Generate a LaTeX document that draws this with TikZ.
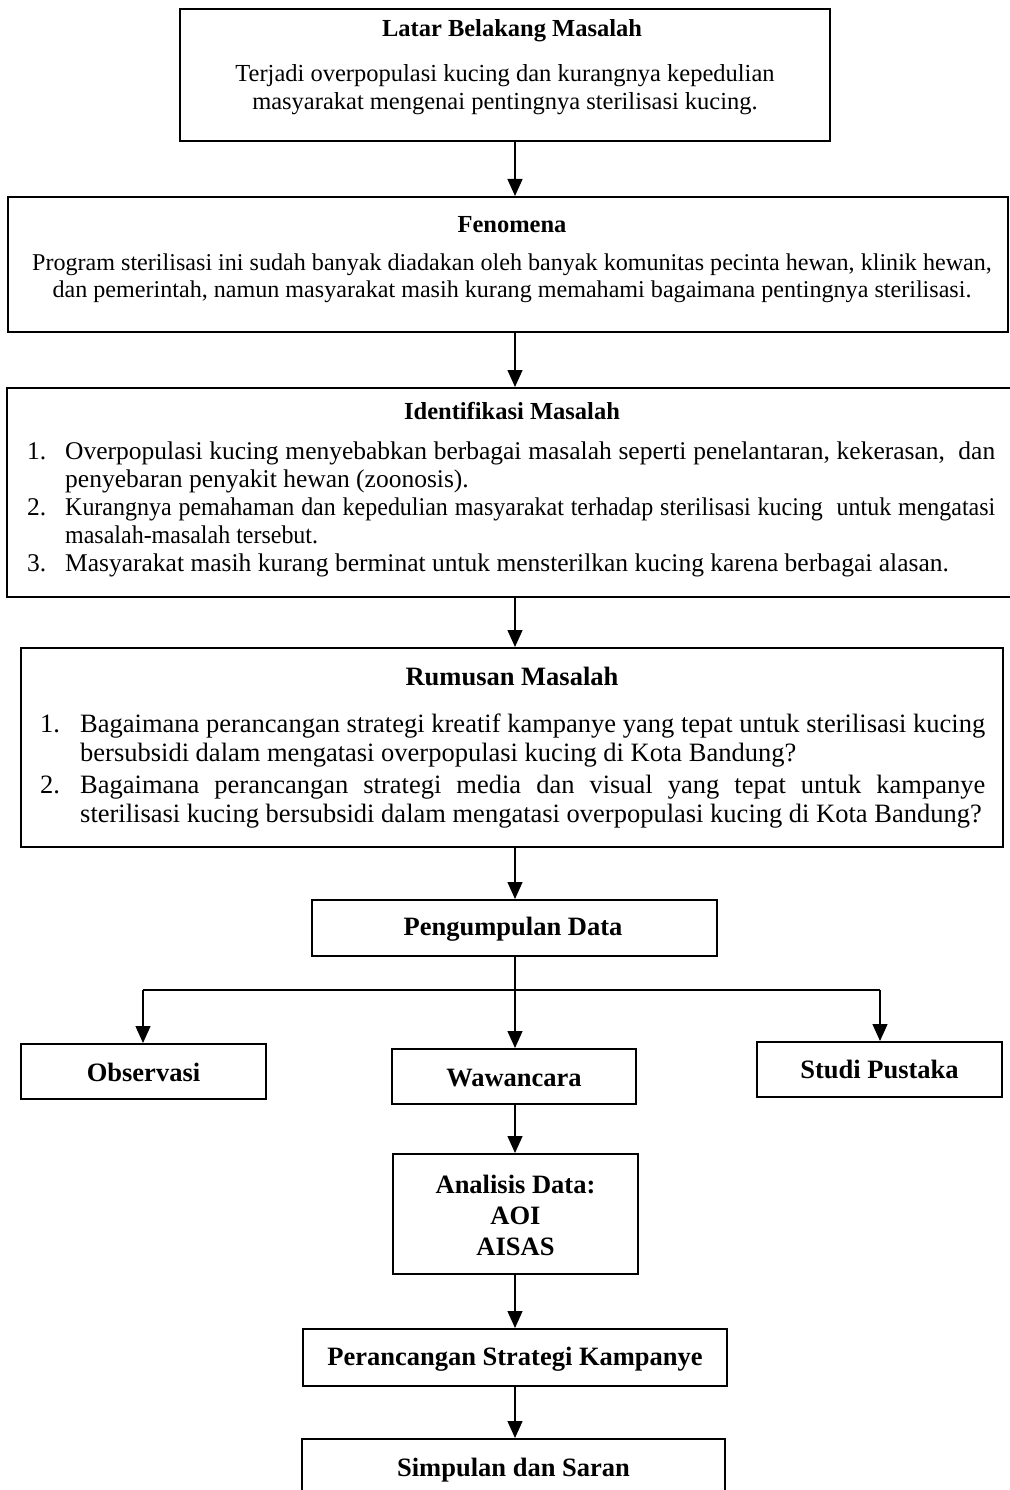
\documentclass[tikz,border=0pt]{standalone}
\usepackage{fontspec}
\setmainfont{Liberation Serif}
\newfontfamily\narrowserif[FakeStretch=0.94]{Liberation Serif}
\usetikzlibrary{arrows.meta}
\newcommand{\itmA}[2]{\par\noindent\hangindent=38pt\hangafter=1\makebox[38pt][l]{#1}#2\par}
\newcommand{\itmB}[2]{\par\noindent\hangindent=40pt\hangafter=1\makebox[40pt][l]{#1}#2\par}
\newcommand{\nohyph}{\hyphenpenalty=10000 \exhyphenpenalty=10000 }
\begin{document}
\begin{tikzpicture}[x=1pt,y=-1pt,
  box/.style={draw, line width=2pt, inner sep=0pt, rectangle},
  ttlS/.style={font=\fontsize{24.5}{28}\selectfont\bfseries, inner sep=0pt},
  ttlL/.style={font=\fontsize{26.5}{31}\selectfont\bfseries, inner sep=0pt, align=center},
  bodyS/.style={font=\fontsize{24.5}{28}\selectfont, inner sep=0pt},
  bodyF/.style={font=\fontsize{24.1}{26.5}\selectfont, inner sep=0pt},
  bodyM/.style={font=\fontsize{25.5}{28}\selectfont, inner sep=0pt},
  bodyL/.style={font=\fontsize{26.5}{28.5}\selectfont, inner sep=0pt},
  conn/.style={line width=1.3pt},
  arr/.style={line width=1.3pt, -{Triangle[width=15pt,length=17pt]}}]
\useasboundingbox (0,0) rectangle (1009,1490);
\fill[white] (0,0) rectangle (1009,1490);
% boxes
\node[box, minimum width=650pt, minimum height=132pt] (latar) at (505,75) {};
\node[box, minimum width=1000pt, minimum height=135pt] (feno) at (508,264.5) {};
\node[box, minimum width=1007pt, minimum height=209pt] (ident) at (510.5,492.5) {};
\node[box, minimum width=982pt, minimum height=199pt] (rumus) at (512,747.5) {};
\node[box, minimum width=405pt, minimum height=56pt] (kumpul) at (514.5,928) {};
\node[box, minimum width=245pt, minimum height=55pt] (obs) at (143.5,1071.5) {};
\node[box, minimum width=244pt, minimum height=55pt] (waw) at (514,1076.5) {};
\node[box, minimum width=245pt, minimum height=55pt] (studi) at (879.5,1069.5) {};
\node[box, minimum width=245pt, minimum height=120pt] (anal) at (515.5,1214) {};
\node[box, minimum width=424pt, minimum height=57pt] (rancang) at (515,1357.5) {};
\node[box, minimum width=423pt, minimum height=62pt] (simpul) at (513.5,1470) {};
% texts
\node[ttlS] (latarT) at (512,31) {Latar Belakang Masalah};
\node[bodyS, align=center, anchor=north] (latarB) at (505,64) {Terjadi overpopulasi kucing dan kurangnya kepedulian\\masyarakat mengenai pentingnya sterilisasi kucing.};
\node[ttlS] (fenoT) at (512,225) {Fenomena};
\node[bodyF, align=center, anchor=north] (fenoB) at (512,254) {Program sterilisasi ini sudah banyak diadakan oleh banyak komunitas pecinta hewan, klinik hewan,\\dan pemerintah, namun masyarakat masih kurang memahami bagaimana pentingnya sterilisasi.};
\node[ttlS] (identT) at (512,411) {Identifikasi Masalah};
\node[bodyM, text width=968pt, align=justify, anchor=north west] (identB) at (27,431) {\nohyph
\itmA{1.}{Overpopulasi kucing menyebabkan berbagai masalah seperti penelantaran, kekerasan,\ \ dan\linebreak penyebaran penyakit hewan (zoonosis).}%
\itmA{2.}{{\narrowserif Kurangnya pemahaman dan kepedulian masyarakat terhadap sterilisasi kucing\ \ untuk mengatasi\linebreak masalah-masalah tersebut.}}%
\itmA{3.}{Masyarakat masih kurang berminat untuk mensterilkan kucing karena berbagai alasan.}};
\node[ttlL] (rumusT) at (512,676) {Rumusan Masalah};
\node[bodyL, text width=945pt, align=justify, anchor=north west] (rumusB) at (40,704) {\nohyph
\itmB{1.}{Bagaimana perancangan strategi kreatif kampanye yang tepat untuk sterilisasi kucing\linebreak bersubsidi dalam mengatasi overpopulasi kucing di Kota Bandung?}\vspace{4pt}%
\itmB{2.}{Bagaimana perancangan strategi media dan visual yang tepat untuk kampanye\linebreak sterilisasi kucing bersubsidi dalam mengatasi overpopulasi kucing di Kota Bandung?}};
\node[ttlL] (kumpulT) at (513,929) {Pengumpulan Data};
\node[ttlL] (obsT) at (143.5,1072) {Observasi};
\node[ttlL] (wawT) at (514,1078) {Wawancara};
\node[ttlL] (studiT) at (879.5,1069) {Studi Pustaka};
\node[ttlL] (analT) at (515.5,1215) {Analisis Data:\\AOI\\AISAS};
\node[ttlL] (rancangT) at (515,1359) {Perancangan Strategi Kampanye};
\node[ttlL] (simpulT) at (513.5,1470) {Simpulan dan Saran};
% connectors
\coordinate (cx) at (515,0);
\coordinate (lx) at (143,0);
\coordinate (rx) at (880,0);
\coordinate (hy) at (0,990);
\draw[arr] (latar.south -| cx) -- (feno.north -| cx);
\draw[arr] (feno.south -| cx) -- (ident.north -| cx);
\draw[arr] (ident.south -| cx) -- (rumus.north -| cx);
\draw[arr] (rumus.south -| cx) -- (kumpul.north -| cx);
\draw[arr] (kumpul.south -| cx) -- (waw.north -| cx);
\draw[conn] (hy -| lx) -- (hy -| rx);
\draw[arr] (hy -| lx) -- (obs.north -| lx);
\draw[arr] (hy -| rx) -- (studi.north -| rx);
\draw[arr] (waw.south -| cx) -- (anal.north -| cx);
\draw[arr] (anal.south -| cx) -- (rancang.north -| cx);
\draw[arr] (rancang.south -| cx) -- (simpul.north -| cx);
\end{tikzpicture}
\end{document}
